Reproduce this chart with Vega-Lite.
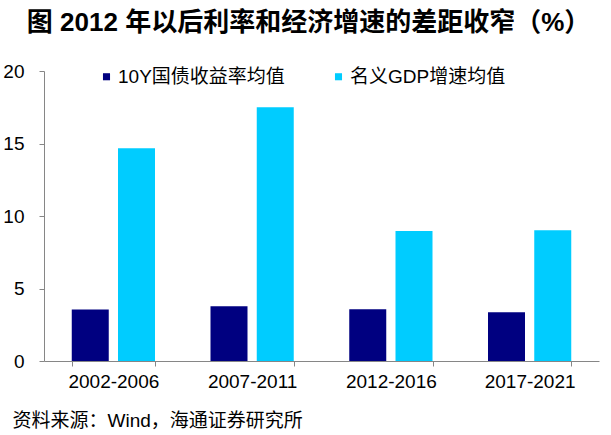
{
  "$schema": "https://vega.github.io/schema/vega-lite/v6.json",
  "autosize": {"type": "none"},
  "width": 555,
  "height": 290,
  "padding": {"left": 44, "top": 71, "right": 12, "bottom": 74},
  "background": "white",
  "config": {"view": {"stroke": null}},
  "title": {
    "text": "图  2012 年以后利率和经济增速的差距收窄（%）",
    "anchor": "start",
    "dx": 24,
    "offset": 5,
    "baseline": "alphabetic",
    "font": "Liberation Sans, Noto Sans CJK SC",
    "fontSize": 26,
    "fontWeight": "bold",
    "color": "#000000"
  },
  "data": {
    "values": [
      {"period": "2002-2006", "series": "10Y国债收益率均值", "value": 3.56},
      {"period": "2002-2006", "series": "名义GDP增速均值", "value": 14.68},
      {"period": "2007-2011", "series": "10Y国债收益率均值", "value": 3.78},
      {"period": "2007-2011", "series": "名义GDP增速均值", "value": 17.5},
      {"period": "2012-2016", "series": "10Y国债收益率均值", "value": 3.57},
      {"period": "2012-2016", "series": "名义GDP增速均值", "value": 8.96},
      {"period": "2017-2021", "series": "10Y国债收益率均值", "value": 3.36},
      {"period": "2017-2021", "series": "名义GDP增速均值", "value": 9.02}
    ]
  },
  "mark": {"type": "bar"},
  "encoding": {
    "x": {
      "field": "period",
      "type": "nominal",
      "sort": null,
      "scale": {"paddingInner": 0.4, "paddingOuter": 0.2},
      "axis": {
        "title": "资料来源：Wind，海通证券研究所",
        "titleX": -32,
        "titleY": 65,
        "titleAnchor": "start",
        "titleAlign": "left",
        "titleBaseline": "alphabetic",
        "titleFont": "Liberation Sans, Noto Sans CJK SC",
        "titleFontSize": 19,
        "titleFontWeight": "normal",
        "titleColor": "#000000",
        "labelAngle": 0,
        "labelFont": "Liberation Sans",
        "labelFontSize": 19,
        "labelColor": "#000000",
        "labelPadding": 6,
        "tickBand": "extent",
        "tickSize": 5,
        "tickColor": "#868686",
        "domainColor": "#868686"
      }
    },
    "xOffset": {
      "field": "series",
      "type": "nominal",
      "scale": {"domain": ["10Y国债收益率均值", "名义GDP增速均值"], "paddingInner": 0.2, "paddingOuter": 0}
    },
    "y": {
      "field": "value",
      "type": "quantitative",
      "scale": {"domain": [0, 20], "nice": false},
      "axis": {
        "title": null,
        "values": [0, 5, 10, 15, 20],
        "grid": false,
        "labelFont": "Liberation Sans",
        "labelFontSize": 19,
        "labelColor": "#000000",
        "labelPadding": 15,
        "tickSize": 5,
        "tickColor": "#868686",
        "domainColor": "#868686"
      }
    },
    "color": {
      "field": "series",
      "type": "nominal",
      "scale": {"domain": ["10Y国债收益率均值", "名义GDP增速均值"], "range": ["#000080", "#00CCFF"]},
      "legend": {
        "title": null,
        "orient": "none",
        "legendX": 53,
        "legendY": -4,
        "padding": 0,
        "direction": "horizontal",
        "symbolType": "square",
        "symbolSize": 50,
        "symbolStrokeWidth": 0,
        "labelOffset": 2,
        "labelFont": "Liberation Sans, Noto Sans CJK SC",
        "labelFontSize": 19,
        "labelColor": "#000000",
        "labelLimit": 300,
        "columnPadding": 44
      }
    }
  }
}
